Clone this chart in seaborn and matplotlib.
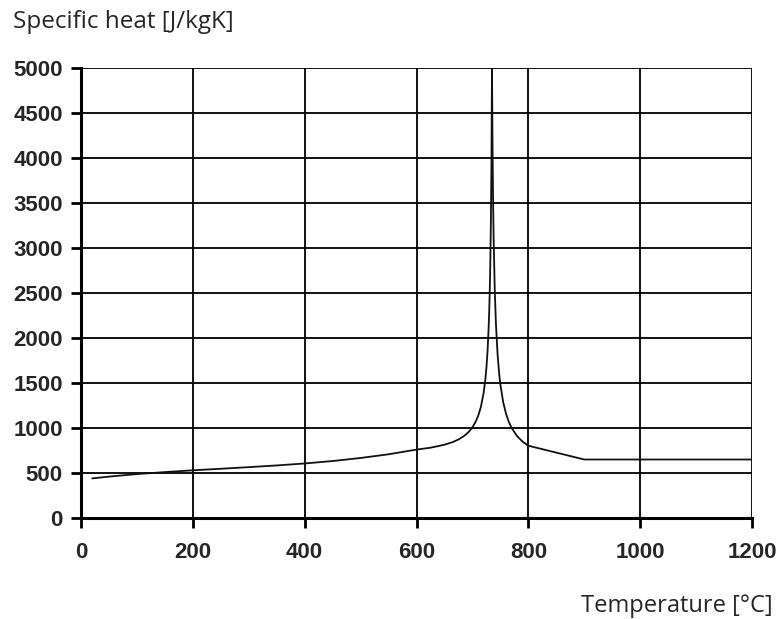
import matplotlib
matplotlib.use("Agg")
import matplotlib.pyplot as plt
import seaborn as sns
import pandas as pd

temperature = [20, 50, 100, 150, 200, 250, 300, 350, 400, 450, 500, 550, 600, 625, 650,
               665, 675, 685, 690, 695, 700, 705, 710, 715, 720, 723, 725, 727, 729, 730,
               731, 732, 733, 734, 735, 736, 737, 738, 740, 742, 745, 748, 750, 755, 760,
               765, 770, 780, 790, 800, 900, 1000, 1100, 1200]
specific_heat = [440, 460, 488, 510, 530, 547, 565, 584, 606, 633, 667, 708, 760, 781, 814,
                 844, 872, 911, 937, 968, 1008, 1060, 1130, 1231, 1388, 1533, 1666, 1848, 2111, 2291,
                 2523, 2833, 3266, 3917, 5000, 4109, 3515, 3091, 2525, 2165, 1818, 1593, 1483, 1288, 1160,
                 1069, 1002, 909, 847, 803, 650, 650, 650, 650]
x_ticks = [0, 200, 400, 600, 800, 1000, 1200]
y_ticks = [0, 500, 1000, 1500, 2000, 2500, 3000, 3500, 4000, 4500, 5000]

df = pd.DataFrame({"T": temperature, "c": specific_heat})

sns.set_theme(style="white")
plt.rcParams['font.family'] = ['Liberation Sans', 'DejaVu Sans']

fig = plt.figure(figsize=(7.78, 6.19), dpi=100)
ax = fig.add_axes([81/778, 101/619, 671/778, 450/619])

sns.lineplot(data=df, x="T", y="c", ax=ax, color="#111111", linewidth=1.3, sort=False)

ax.set_xlim(0, 1200)
ax.set_ylim(0, 5000)
ax.set_xticks(x_ticks)
ax.set_yticks(y_ticks)
ax.set_xticklabels([str(v) for v in x_ticks], fontsize=16, fontweight="bold")
ax.set_yticklabels([str(v) for v in y_ticks], fontsize=16, fontweight="bold")
ax.set_xlabel("")
ax.set_ylabel("")

ax.grid(True, color="black", linewidth=1.3)
ax.set_axisbelow(True)
for side in ["top", "right"]:
    ax.spines[side].set_visible(False)
for side in ["left", "bottom"]:
    ax.spines[side].set_color("black")
    ax.spines[side].set_linewidth(2.2)
ax.tick_params(axis="both", direction="out", length=7, width=2, color="black",
               left=True, bottom=True)
ax.tick_params(axis="y", pad=6)
ax.tick_params(axis="x", pad=10)

fig.text(13/778, 1 - 28/619, "Specific heat [J/kgK]", fontsize=17.5,
         family=["Open Sans", "DejaVu Sans"], va="baseline", ha="left")
fig.text(773/778, 1 - 612/619, "Temperature [°C]", fontsize=17,
         family=["Open Sans", "DejaVu Sans"], va="baseline", ha="right")

fig.savefig("out.png", dpi=100)
